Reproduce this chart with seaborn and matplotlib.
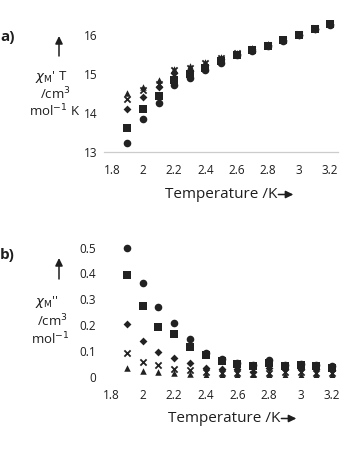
import matplotlib
matplotlib.use("Agg")
import matplotlib.pyplot as plt
import seaborn as sns
import pandas as pd
import numpy as np

sns.set_theme(style="white")
plt.rcParams["font.family"] = ["Open Sans", "DejaVu Sans"]
plt.rcParams["mathtext.fontset"] = "dejavusans"

# Temperatures (K)
temperature = [1.9, 2.0, 2.1, 2.2, 2.3, 2.4, 2.5, 2.6, 2.7, 2.8, 2.9, 3.0, 3.1, 3.2]

# In-phase chi'T (cm^3 mol^-1 K), one list per frequency series
chiT_circle   = [13.24, 13.85, 14.25, 14.72, 14.90, 15.10, 15.28, 15.47, 15.58, 15.71, 15.84, 15.99, 16.14, 16.25]
chiT_square   = [13.61, 14.10, 14.44, 14.83, 14.98, 15.15, 15.33, 15.49, 15.60, 15.72, 15.85, 16.00, 16.15, 16.26]
chiT_diamond  = [14.09, 14.40, 14.66, 15.03, 15.08, 15.22, 15.37, 15.51, 15.62, 15.73, 15.86, 16.00, 16.15, 16.26]
chiT_star     = [14.35, 14.59, 14.74, 15.10, 15.15, 15.27, 15.41, 15.52, 15.64, 15.74, 15.86, 16.01, 16.16, 16.27]
chiT_triangle = [14.50, 14.66, 14.83, 15.13, 15.20, 15.30, 15.43, 15.53, 15.65, 15.75, 15.87, 16.01, 16.16, 16.28]

# Out-of-phase chi'' (cm^3 mol^-1)
chi2_circle   = [0.500, 0.362, 0.270, 0.209, 0.146, 0.090, 0.070, 0.055, 0.045, 0.065, 0.045, 0.050, 0.045, 0.040]
chi2_square   = [0.394, 0.274, 0.194, 0.164, 0.116, 0.085, 0.060, 0.050, 0.040, 0.055, 0.040, 0.045, 0.040, 0.035]
chi2_diamond  = [0.204, 0.140, 0.097, 0.074, 0.052, 0.032, 0.030, 0.030, 0.020, 0.032, 0.030, 0.030, 0.030, 0.025]
chi2_star     = [0.093, 0.058, 0.045, 0.030, 0.025, 0.020, 0.015, 0.015, 0.012, 0.015, 0.020, 0.020, 0.015, 0.015]
chi2_triangle = [0.035, 0.023, 0.020, 0.015, 0.012, 0.008, 0.005, 0.005, 0.005, 0.005, 0.008, 0.008, 0.008, 0.005]

series_names = ["circle", "square", "diamond", "star", "triangle"]
markers = {"circle": "o", "square": "s", "diamond": "D", "star": "x", "triangle": "^"}
sizes = {"circle": 30, "square": 38, "diamond": 16, "star": 20, "triangle": 22}

top_df = pd.DataFrame({
    "T": temperature * 5,
    "val": chiT_circle + chiT_square + chiT_diamond + chiT_star + chiT_triangle,
    "series": np.repeat(series_names, len(temperature)),
})
bot_df = pd.DataFrame({
    "T": temperature * 5,
    "val": chi2_circle + chi2_square + chi2_diamond + chi2_star + chi2_triangle,
    "series": np.repeat(series_names, len(temperature)),
})

W, H = 346, 450
fig = plt.figure(figsize=(W / 100, H / 100), dpi=100)
ax1 = fig.add_axes([104 / W, 1 - 152 / H, 234 / W, 137 / H])
ax2 = fig.add_axes([103 / W, 1 - 376.7 / H, 237 / W, 141.9 / H])

mark_col = "#222222"
text_col = "#1e1e1e"

def draw(ax, df):
    for name in series_names:
        sub = df[df["series"] == name]
        lw = 1.3 if markers[name] == "x" else 0
        sns.scatterplot(data=sub, x="T", y="val", marker=markers[name],
                        s=sizes[name], color=mark_col, linewidth=lw,
                        edgecolor=mark_col if lw == 0 else None,
                        ax=ax, legend=False, zorder=3)
    ax.set_xlabel("")
    ax.set_ylabel("")
    ax.set_xlim(1.75, 3.25)
    ax.set_xticks([1.8, 2.0, 2.2, 2.4, 2.6, 2.8, 3.0, 3.2])
    ax.set_xticklabels(["1.8", "2", "2.2", "2.4", "2.6", "2.8", "3", "3.2"])
    for s in ax.spines.values():
        s.set_visible(False)
    ax.tick_params(axis="both", labelsize=8.5, colors="#d0d0d0",
                   labelcolor=text_col, direction="in", length=3, width=0.8)
    ax.tick_params(axis="x", pad=9, length=0)
    ax.tick_params(axis="y", pad=5)

draw(ax1, top_df)
ax1.set_ylim(13, 16.5)
ax1.set_yticks([13, 14, 15, 16])
ax1.set_yticks([13.5, 14.5, 15.5, 16.5], minor=True)
ax1.tick_params(axis="y", which="minor", direction="in", length=3, colors="#d8d8d8")
ax1.spines["bottom"].set_visible(True)
ax1.spines["bottom"].set_color("#cccccc")
ax1.spines["bottom"].set_linewidth(0.9)

draw(ax2, bot_df)
ax2.set_ylim(0, 0.55)
ax2.set_yticks([0, 0.1, 0.2, 0.3, 0.4, 0.5])
ax2.set_yticklabels(["0", "0.1", "0.2", "0.3", "0.4", "0.5"])
ax2.set_yticks([0.55], minor=True)
ax2.tick_params(axis="y", which="minor", direction="in", length=3, colors="#d8d8d8")

def px(x, y):
    return x / W, 1 - y / H

# panel tags
fig.text(*px(0, 37), "a)", fontsize=11, fontweight="bold", color=text_col, va="center", ha="left")
fig.text(*px(0, 255), "b)", fontsize=11, fontweight="bold", color=text_col, va="center", ha="left")

def arrow(p0, p1):
    fig.add_artist(matplotlib.patches.FancyArrowPatch(
        px(*p0), px(*p1), transform=fig.transFigure,
        arrowstyle="-|>,head_length=0.45,head_width=0.22", mutation_scale=10,
        shrinkA=0, shrinkB=0, color=text_col, lw=1.1))

# y-axis labels with upward arrows
arrow((59, 56), (59, 36))
fig.text(*px(51, 77), r"$\chi_{\mathrm{M}}$' T", fontsize=9.5, color=text_col, ha="center", va="center")
fig.text(*px(55, 94), r"/cm$^{3}$", fontsize=9.5, color=text_col, ha="center", va="center")
fig.text(*px(55, 111), r"mol$^{-1}$ K", fontsize=9.5, color=text_col, ha="center", va="center")

arrow((59, 279), (59, 258))
fig.text(*px(47, 302), r"$\chi_{\mathrm{M}}$''", fontsize=9.5, color=text_col, ha="center", va="center")
fig.text(*px(52, 321), r"/cm$^{3}$", fontsize=9.5, color=text_col, ha="center", va="center")
fig.text(*px(50, 339), r"mol$^{-1}$", fontsize=9.5, color=text_col, ha="center", va="center")

# x-axis labels with a right arrow placed just after the text
fig.canvas.draw()
renderer = fig.canvas.get_renderer()

def xlabel(y, x0):
    t = fig.text(*px(x0, y), "Temperature /K", fontsize=11, color=text_col, ha="left", va="center")
    x_end = t.get_window_extent(renderer).x1
    arrow((x_end + 1, y + 0.5), (x_end + 16, y + 0.5))

xlabel(194, 165)
xlabel(418, 168)

fig.savefig("out.png", dpi=100, facecolor="white")
